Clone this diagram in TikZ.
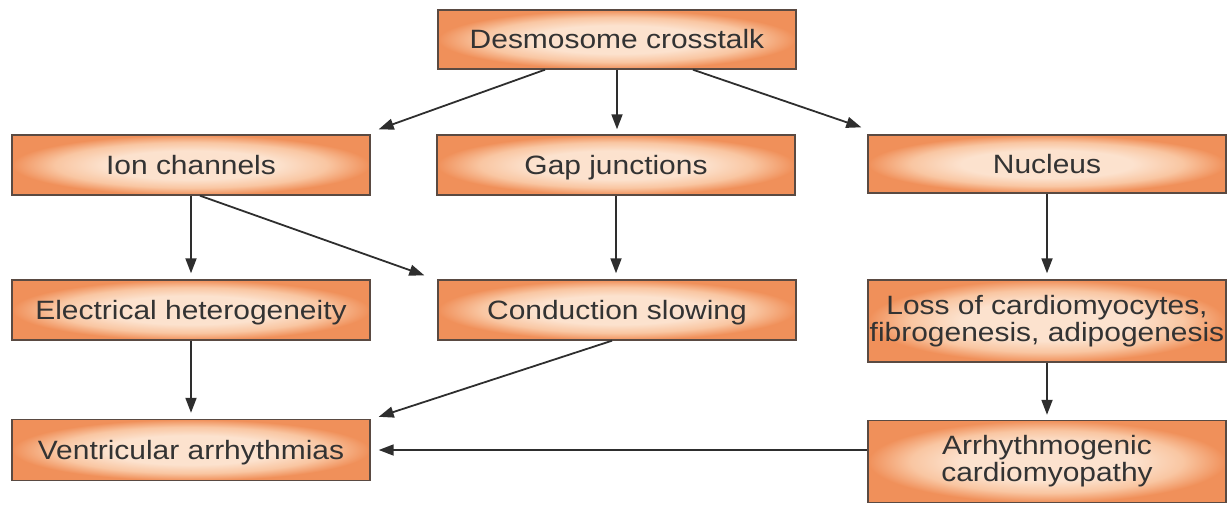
\documentclass[tikz,border=0pt]{standalone}
\usepackage{fontspec}
\setmainfont{Liberation Sans}[FakeStretch=1.13]
\usetikzlibrary{arrows.meta}

\definecolor{glowin}{HTML}{FCE2CE}
\definecolor{glowmid}{HTML}{F9C6A2}
\definecolor{glowout}{HTML}{F0905A}
\definecolor{boxline}{HTML}{5A4A42}
\definecolor{inktext}{HTML}{333333}
\definecolor{arrowink}{HTML}{2E2E2E}

% soft orange glow: light centre fading to orange at the rim
\pgfdeclareradialshading{boxglow}{\pgfpoint{0bp}{0bp}}{%
  color(0bp)=(glowin); color(12bp)=(glowin); color(19bp)=(glowmid);
  color(25bp)=(glowout); color(50bp)=(glowout)}

\tikzset{
  stagebox/.style={draw=boxline, line width=1.4pt, shading=boxglow,
    inner sep=0pt, align=center, text=inktext,
    font=\fontsize{26.5}{27}\selectfont, minimum width=358pt},
  oneline/.style={stagebox, text height=21pt, text depth=3pt},
  arr/.style={draw=arrowink, line width=1.8pt,
    -{Triangle[length=15pt,width=11pt]}},
}

\begin{document}
\begin{tikzpicture}[x=1pt,y=-1pt]
\useasboundingbox (0,0) rectangle (1231,504);

\node[oneline, minimum height=59pt] (dc)   at (617,39.5)   {Desmosome crosstalk};
\node[oneline, minimum height=60pt] (ion)  at (191,165)    {Ion channels};
\node[oneline, minimum height=60pt] (gap)  at (616,165)    {Gap junctions};
\node[oneline, minimum height=58pt] (nuc)  at (1047,164)   {Nucleus};
\node[oneline, minimum height=60pt] (elec) at (191,310)    {Electrical heterogeneity};
\node[oneline, minimum height=60pt] (cond) at (617,310)    {Conduction slowing};
\node[stagebox, minimum height=82pt] (loss) at (1047,321)  {Loss of cardiomyocytes,\\fibrogenesis, adipogenesis};
\node[oneline, minimum height=61pt] (vent) at (191,450)    {Ventricular arrhythmias};
\node[stagebox, minimum height=82pt] (acm)  at (1047,461.5) {Arrhythmogenic\\cardiomyopathy};

% desmosome signalling branches
\draw[arr] ([xshift=-72pt]dc.south) -- ([shift={(8,-5)}]ion.north east);
\draw[arr, shorten >=5pt] (dc.south) -- (dc.south |- gap.north);
\draw[arr] ([xshift=76pt]dc.south) -- ([shift={(-6,-7)}]nuc.north west);

% second level
\draw[arr, shorten >=6pt] (ion.south) -- (ion.south |- elec.north);
\draw[arr] ([xshift=9pt]ion.south) -- ([shift={(-13,-4)}]cond.north west);
\draw[arr, shorten >=6pt] (gap.south) -- (gap.south |- cond.north);
\draw[arr, shorten >=6pt] (nuc.south) -- (nuc.south |- loss.north);

% towards the clinical outcome
\draw[arr, shorten >=6pt] (elec.south) -- (elec.south |- vent.north);
\draw[arr] ([xshift=-5pt]cond.south) -- ([shift={(8,-2)}]vent.north east);
\draw[arr, shorten >=5pt] (loss.south) -- (loss.south |- acm.north);
\draw[arr, shorten >=8pt] (acm.west |- vent.east) -- (vent.east);
\end{tikzpicture}
\end{document}
